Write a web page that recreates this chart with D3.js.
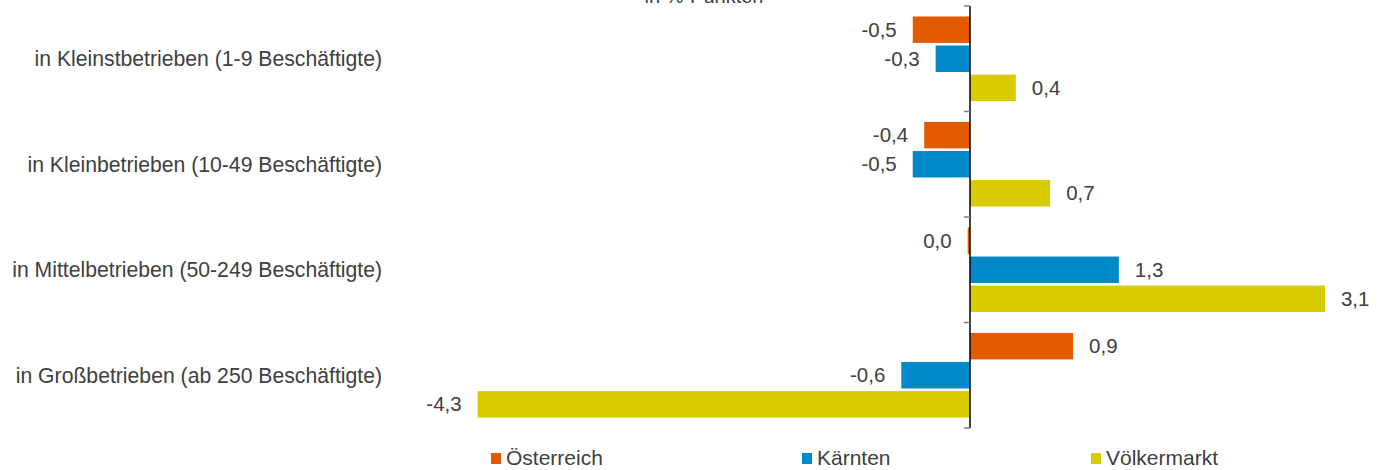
<!DOCTYPE html>
<html>
<head>
<meta charset="utf-8">
<script src="https://cdn.jsdelivr.net/npm/d3@7"></script>
<style>
  body { margin: 0; background: #fff; }
  svg text { font-family: "Liberation Sans", Arial, sans-serif; fill: #404040; }
</style>
</head>
<body>
<div id="chart"></div>
<script>
// Kategorien (Betriebsgröße)
const categories = [
    "in Kleinstbetrieben (1-9 Beschäftigte)",
    "in Kleinbetrieben (10-49 Beschäftigte)",
    "in Mittelbetrieben (50-249 Beschäftigte)",
    "in Großbetrieben (ab 250 Beschäftigte)"
];
const seriesNames = ["Österreich", "Kärnten", "Völkermarkt"];
const oesterreich = [-0.5, -0.4, -0.02, 0.9];
const kaernten = [-0.3, -0.5, 1.3, -0.6];
const voelkermarkt = [0.4, 0.7, 3.1, -4.3];
const colors = ["#e35b00", "#0089c9", "#d8cb00"];
const unitLabel = "in %-Punkten";

const width = 1385, height = 470;

const svg = d3.select("#chart")
    .append("svg")
    .attr("width", width)
    .attr("height", height);

const seriesValues = [oesterreich, kaernten, voelkermarkt];
const data = categories.map((c, i) => ({
    cat: c,
    vals: seriesNames.map((s, j) => ({series: s, value: seriesValues[j][i]}))
}));

// 0 liegt bei x=970, ca. 114.5 px pro Prozentpunkt
const x = d3.scaleLinear()
    .domain([-5, 3.5])
    .range([970 - 5 * 114.5, 970 + 3.5 * 114.5]);

const y0 = d3.scaleBand()
    .domain(categories)
    .range([6, 428])
    .padding(0);

const y1 = d3.scaleBand()
    .domain(seriesNames)
    .range([0, y0.bandwidth()])
    .paddingInner(0.09)
    .paddingOuter(0.36);

const color = d3.scaleOrdinal().domain(seriesNames).range(colors);

const fmt = v => (Math.round(v * 10) / 10 || 0).toFixed(1).replace(".", ",");

// Balken
const groups = svg.append("g")
    .selectAll("g")
    .data(data)
    .join("g")
    .attr("transform", d => `translate(0,${y0(d.cat)})`);

groups.selectAll("rect")
    .data(d => d.vals)
    .join("rect")
    .attr("x", d => x(Math.min(0, d.value)))
    .attr("y", d => y1(d.series))
    .attr("width", d => Math.abs(x(d.value) - x(0)))
    .attr("height", y1.bandwidth())
    .attr("fill", d => color(d.series));

groups.selectAll("text")
    .data(d => d.vals)
    .join("text")
    .attr("x", d => d.value > 0 ? x(d.value) + 16 : x(d.value) - 16)
    .attr("y", d => y1(d.series) + y1.bandwidth() / 2)
    .attr("dy", "0.35em")
    .attr("text-anchor", d => d.value > 0 ? "start" : "end")
    .style("font-size", "20.5px")
    .text(d => fmt(d.value));

// Achse bei 0
const yAxis = d3.axisLeft(y0)
    .tickSize(0)
    .tickFormat("");

const axisG = svg.append("g")
    .attr("transform", `translate(${x(0)},0)`)
    .call(yAxis);
axisG.select(".domain").attr("stroke", "#000").attr("stroke-width", 1.5).attr("d", `M0,${6}V${428}`);

// Trennstriche zwischen Kategorien
const boundaries = [6, ...categories.map(c => y0(c) + y0.bandwidth())];
axisG.selectAll("line.sep")
    .data(boundaries)
    .join("line")
    .attr("class", "sep")
    .attr("x1", -6).attr("x2", 0)
    .attr("y1", d => d).attr("y2", d => d)
    .attr("stroke", "#7f7f7f")
    .attr("stroke-width", 1.5);

// Kategorie-Beschriftung
svg.append("g")
    .selectAll("text")
    .data(categories)
    .join("text")
    .attr("x", 382)
    .attr("y", d => y0(d) + y0.bandwidth() / 2)
    .attr("dy", "0.35em")
    .attr("text-anchor", "end")
    .style("font-size", "21.2px")
    .text(d => d);

// Einheit (oben abgeschnitten wie im Original)
svg.append("text")
    .attr("x", 704)
    .attr("y", 3)
    .attr("text-anchor", "middle")
    .style("font-size", "20px")
    .text(unitLabel);

// Legende
const legendX = [491, 802, 1091];
const legend = svg.append("g")
    .selectAll("g")
    .data(seriesNames)
    .join("g")
    .attr("transform", (d, i) => `translate(${legendX[i]},453)`);

legend.append("rect")
    .attr("width", 10)
    .attr("height", 11)
    .attr("fill", d => color(d));

legend.append("text")
    .attr("x", 15)
    .attr("y", 12)
    .style("font-size", "21px")
    .text(d => d);
</script>
</body>
</html>
